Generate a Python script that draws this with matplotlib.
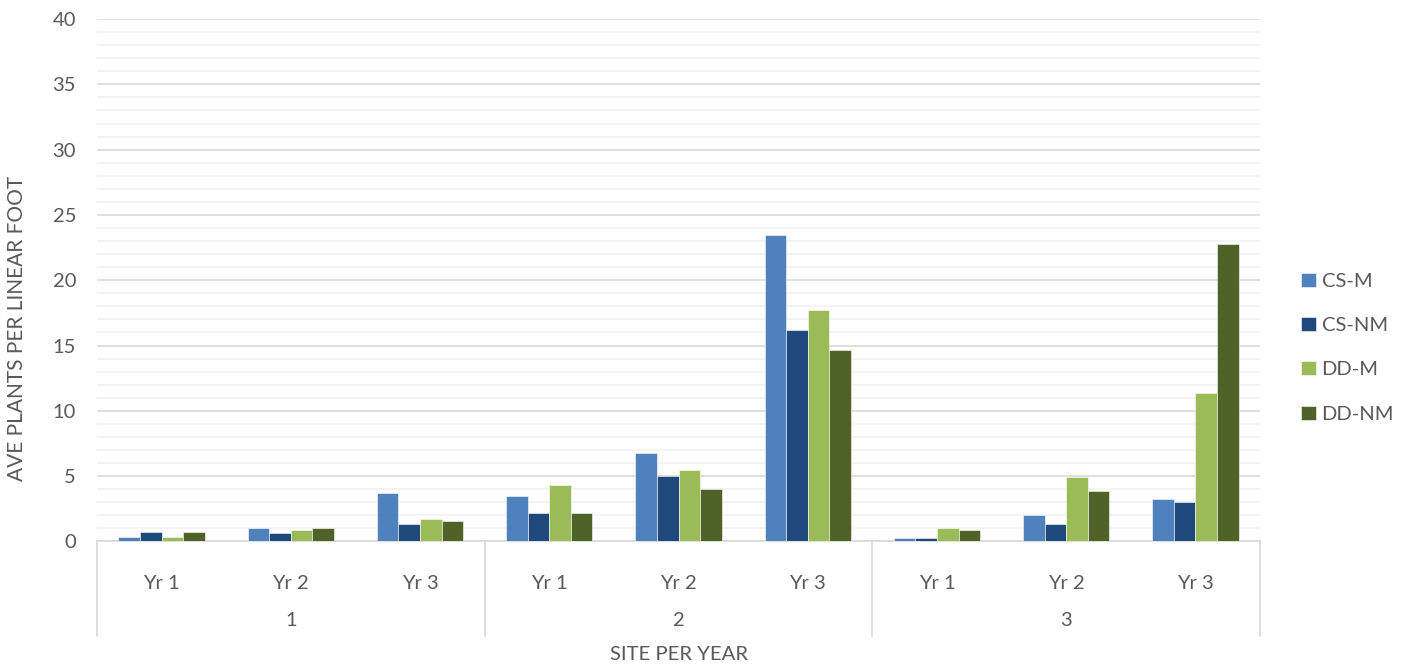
import numpy as np
import matplotlib.pyplot as plt
from matplotlib.ticker import MultipleLocator

sites = ["1", "2", "3"]
years = ["Yr 1", "Yr 2", "Yr 3"]
series = ["CS-M", "CS-NM", "DD-M", "DD-NM"]
colors = ["#4F81BD", "#1F497D", "#9BBB59", "#4F6228"]

# values per (site, year) in order: site1 yr1..3, site2 yr1..3, site3 yr1..3
cs_m = [0.35, 1.0, 3.7, 3.5, 6.75, 23.5, 0.3, 2.0, 3.25]
cs_nm = [0.75, 0.65, 1.35, 2.2, 5.05, 16.2, 0.3, 1.3, 3.05]
dd_m = [0.35, 0.9, 1.75, 4.35, 5.5, 17.75, 1.0, 4.95, 11.35]
dd_nm = [0.75, 1.0, 1.6, 2.2, 4.0, 14.65, 0.9, 3.9, 22.75]

plt.rcParams["font.family"] = ["Lato", "DejaVu Sans"]
text_col = "#595959"

fig = plt.figure(figsize=(14.09, 6.67), dpi=100)
ax = fig.add_axes([0.0688, 0.1882, 0.8255, 0.7833])

n = len(sites) * len(years)
x = np.arange(n)
w = 0.167
for i, (vals, lab, c) in enumerate(zip([cs_m, cs_nm, dd_m, dd_nm], series, colors)):
    ax.bar(x + (i - 1.5) * w, vals, width=w, color=c, label=lab,
           edgecolor="white", linewidth=0.4, zorder=3)

ax.set_xlim(-0.5, n - 0.5)
ax.set_ylim(0, 40)
ax.yaxis.set_major_locator(MultipleLocator(5))
ax.yaxis.set_minor_locator(MultipleLocator(1))
ax.grid(axis="y", which="major", color="#D9D9D9", linewidth=1.2, zorder=0)
ax.grid(axis="y", which="minor", color="#F2F2F2", linewidth=1.2, zorder=0)
ax.tick_params(axis="y", which="both", length=0, pad=15, labelsize=14.5, labelcolor=text_col)
ax.set_xticks([])
for s in ["top", "right", "left"]:
    ax.spines[s].set_visible(False)
ax.spines["bottom"].set_color("#D9D9D9")
ax.spines["bottom"].set_linewidth(1.2)

# multi-level category axis
trans = ax.get_xaxis_transform()
for k in range(n):
    ax.text(k, -0.08, years[k % 3], transform=trans, ha="center", va="center",
            fontsize=14.5, color=text_col)
for j, s in enumerate(sites):
    ax.text(3 * j + 1, -0.152, s, transform=trans, ha="center", va="center",
            fontsize=14.5, color=text_col)
for xs in [-0.5, 2.5, 5.5, 8.5]:
    ax.plot([xs, xs], [0, -0.18], transform=trans, color="#D9D9D9",
            linewidth=1.2, clip_on=False)

ax.text(0.5, -0.217, "SITE PER YEAR", transform=ax.transAxes, ha="center",
        va="center", fontsize=14.6, color=text_col)
ax.set_ylabel("AVE PLANTS PER LINEAR FOOT", fontsize=15, color=text_col,
              va="center")
ax.yaxis.set_label_coords(-0.0685, 0.407)

ax.legend(loc="center left", bbox_to_anchor=(1.02, 0.371), frameon=False,
          fontsize=14.5, labelcolor=text_col, handlelength=0.7, handleheight=0.7,
          handletextpad=0.3, labelspacing=1.35)

fig.savefig("out.png", dpi=100)
